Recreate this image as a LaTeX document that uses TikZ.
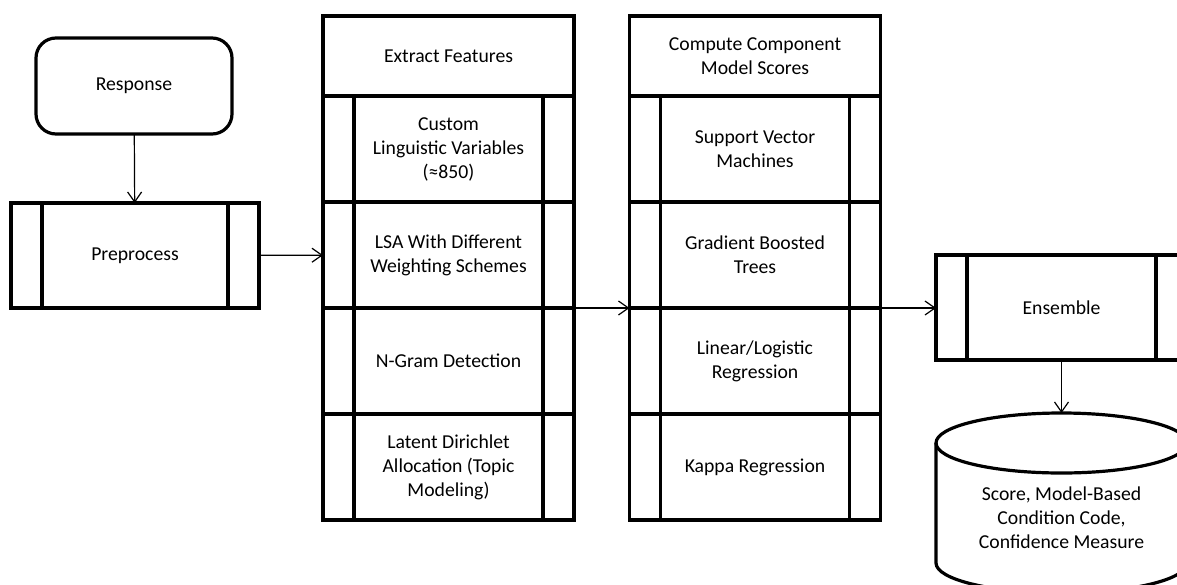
\documentclass[tikz,border=0pt]{standalone}
\usepackage{fontspec}
\setmainfont{Carlito}
\usetikzlibrary{arrows.meta,positioning}
\tikzset{arrows={-{Straight Barb[length=5pt,width=7pt]}}}
\tikzset{
  basebox/.style={draw, line width=1.6pt, inner sep=0pt, outer sep=0pt, align=center,
    font=\fontsize{9.85pt}{12pt}\selectfont},
  termbox/.style={basebox, rounded corners=10pt, minimum width=98pt, minimum height=48pt},
  headbox/.style={basebox, minimum width=125.5pt, minimum height=40pt},
  procbox/.style={basebox, minimum width=125.5pt, minimum height=53pt,
    path picture={\draw[-, line width=1.6pt]
      ([xshift=15.5pt]path picture bounding box.north west) -- ([xshift=15.5pt]path picture bounding box.south west)
      ([xshift=-15.5pt]path picture bounding box.north east) -- ([xshift=-15.5pt]path picture bounding box.south east);}},
}

\begin{document}
\begin{tikzpicture}[x=0.5pt, y=-0.5pt]
    \clip (0,0) rectangle (1177,584);

    \node[termbox] (resp) at (134,86) {Response};
    \node[procbox, minimum width=124pt, minimum height=52.5pt] (prep) at (135,255.5) {Preprocess};

    % feature column
    \node[headbox] (feat) at (448.5,56) {Extract Features};
    \node[procbox] (feat1) [below=0pt of feat] {Custom\\Linguistic Variables\\(≈850)};
    \node[procbox] (feat2) [below=0pt of feat1] {LSA With Different\\Weighting Schemes};
    \node[procbox] (feat3) [below=0pt of feat2] {N-Gram Detection};
    \node[procbox] (feat4) [below=0pt of feat3] {Latent Dirichlet\\Allocation (Topic\\Modeling)};

    % model column
    \node[headbox] (score) at (755,56) {Compute Component\\Model Scores};
    \node[procbox] (score1) [below=0pt of score] {Support Vector\\Machines};
    \node[procbox] (score2) [below=0pt of score1] {Gradient Boosted\\Trees};
    \node[procbox] (score3) [below=0pt of score2] {Linear/Logistic\\Regression};
    \node[procbox] (score4) [below=0pt of score3] {Kappa Regression};

    \node[procbox, minimum height=52.5pt] (ens) at (1061.5,307.5) {Ensemble};

    % result store
    \draw[-, line width=1.6pt] (936,443) -- (936,563)
        arc[start angle=180, end angle=0, x radius=125.5, y radius=30] -- (1187,443);
    \draw[-, line width=1.6pt] (1061.5,443) ellipse [x radius=125.5, y radius=30];
    \coordinate (dbtop) at (1061.5,413);
    \node[font=\fontsize{9.85pt}{12pt}\selectfont, align=center] (result) at (1061.5,518)
        {Score, Model-Based\\Condition Code,\\Confidence Measure};

    \path[line width=0.6pt] (resp) edge (prep)
          (prep) edge (feat2)
          (feat2.south east) edge (score2.south west)
          (score2.south east) edge (score2.south east -| ens.west)
          (ens) edge (dbtop);
  \end{tikzpicture}
\end{document}
